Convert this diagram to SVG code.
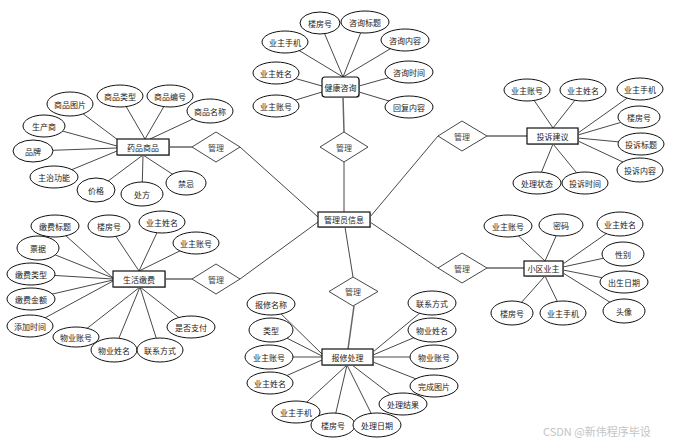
<svg xmlns="http://www.w3.org/2000/svg" width="673" height="444" viewBox="0 0 673 444">
<style>
.bg{fill:#fff}
.ln{stroke:#333;stroke-width:0.9;fill:none}
.lk{stroke:#666;stroke-width:1.5;fill:none}
.at{fill:#fff;stroke:#111;stroke-width:1}
.en{fill:#fff;stroke:#111;stroke-width:1.2}
.sh{fill:#bbb}
.rel{fill:#fff;stroke:#333;stroke-width:0.9}
text{font-family:"Noto Sans CJK SC","Noto Sans",sans-serif;font-size:8px;fill:#222;text-anchor:middle;dominant-baseline:central}
.rt{fill:#444}
.wm{font-size:11px;fill:#c4c4c4;text-anchor:start}
</style>
<rect class="bg" width="673" height="444"/>
<g id="connectors">
<line class="lk" x1="343" y1="97" x2="344" y2="132"/>
<line class="ln" x1="344" y1="162" x2="344" y2="212"/>
<line class="lk" x1="169" y1="147" x2="192" y2="147"/>
<line class="ln" x1="240" y1="147" x2="318" y2="217"/>
<line class="lk" x1="165" y1="279" x2="192" y2="279"/>
<line class="ln" x1="240" y1="279" x2="318" y2="222"/>
<line class="lk" x1="487" y1="136" x2="527" y2="136"/>
<line class="ln" x1="438" y1="136" x2="370" y2="217"/>
<line class="lk" x1="487" y1="268" x2="524" y2="268"/>
<line class="ln" x1="438" y1="268" x2="370" y2="222"/>
<line class="lk" x1="354" y1="306" x2="348" y2="349"/>
<line class="ln" x1="353" y1="277" x2="345" y2="227"/>
<path class="ln" d="M285 42L343 77M320 23L343 77M365 22L343 77M405 40L343 77M276 73L322 86M276 106L322 92M409 72L359 86M409 107L359 92"/>
<path class="ln" d="M70 104L118 140M120 96L145 139M170 96L145 139M210 111L150 139M44 126L117 146M33 151L117 148M54 177L117 151M96 190L143 155M142 194L143 155M186 183L143 155"/>
<path class="ln" d="M55 226L113 278M38 248L113 278M31 274L113 279M31 299L113 280M30 326L113 281M109 226L139 271M162 222L139 271M196 243L139 271M76 337L140 287M114 350L140 287M160 350L140 287M191 327L140 287"/>
<path class="ln" d="M527 90L553 128M583 90L553 128M640 89L578 133M639 117L578 135M641 144L578 138M640 170L578 141M537 183L553 144M585 183L553 144"/>
<path class="ln" d="M508 226L545 261M561 225L545 261M620 224L563 264M623 254L563 267M624 282L563 270M624 311L563 273M512 313L545 276M563 313L545 276"/>
<path class="ln" d="M271 304L322 354M271 330L322 356M269 357L322 357M270 383L322 360M296 412L347 365M333 425L347 365M377 425L347 365M403 404L352 365M434 386L373 362M434 357L373 357M432 330L373 355M432 303L373 352"/>
</g>
<g id="rel-top"><polygon class="rel" points="344,132 368,147 344,162 320,147"/><text class="rt" x="344" y="147">管理</text></g>
<g id="rel-left-top"><polygon class="rel" points="216,132 240,147 216,162 192,147"/><text class="rt" x="216" y="147">管理</text></g>
<g id="rel-left-bottom"><polygon class="rel" points="216,264 240,279 216,294 192,279"/><text class="rt" x="216" y="279">管理</text></g>
<g id="rel-right-top"><polygon class="rel" points="462,121 487,136 462,151 438,136"/><text class="rt" x="462" y="136">管理</text></g>
<g id="rel-right-bottom"><polygon class="rel" points="462,253 487,268 462,283 438,268"/><text class="rt" x="462" y="268">管理</text></g>
<g id="rel-bottom"><polygon class="rel" points="353,277 378,291.5 353,306 329,291.5"/><text class="rt" x="353" y="291.5">管理</text></g>

<g id="admin"><rect class="sh" x="319" y="213" width="52" height="15"/><rect class="en" x="318" y="212" width="52" height="15"/><text x="344" y="219.5">管理员信息</text></g>
<g id="health"><rect class="sh" x="323" y="78" width="37" height="20" rx="3"/><rect class="en" x="322" y="77" width="37" height="20" rx="3"/><text x="340.5" y="87">健康咨询</text></g>
<g id="drug"><rect class="sh" x="118" y="140" width="52" height="16"/><rect class="en" x="117" y="139" width="52" height="16"/><text x="143" y="147">药品商品</text></g>
<g id="complaint"><rect class="sh" x="528" y="129" width="51" height="16"/><rect class="en" x="527" y="128" width="51" height="16"/><text x="552.5" y="136">投诉建议</text></g>
<g id="payment"><rect class="sh" x="114" y="272" width="52" height="16"/><rect class="en" x="113" y="271" width="52" height="16"/><text x="139" y="279">生活缴费</text></g>
<g id="owner"><rect class="sh" x="525" y="262" width="39" height="15"/><rect class="en" x="524" y="261" width="39" height="15"/><text x="543.5" y="268.5">小区业主</text></g>
<g id="repair"><rect class="sh" x="323" y="350" width="51" height="16"/><rect class="en" x="322" y="349" width="51" height="16"/><text x="347.5" y="357">报修处理</text></g>

<g id="health-attrs">
<g id="h1"><ellipse class="at" cx="285" cy="42" rx="23" ry="11"/><text x="285" y="42">业主手机</text></g>
<g id="h2"><ellipse class="at" cx="320" cy="23" rx="20" ry="11"/><text x="320" y="23">楼房号</text></g>
<g id="h3"><ellipse class="at" cx="365" cy="22" rx="24" ry="11"/><text x="365" y="22">咨询标题</text></g>
<g id="h4"><ellipse class="at" cx="405" cy="40" rx="24" ry="11"/><text x="405" y="40">咨询内容</text></g>
<g id="h5"><ellipse class="at" cx="276" cy="73" rx="23" ry="11"/><text x="276" y="73">业主姓名</text></g>
<g id="h6"><ellipse class="at" cx="409" cy="72" rx="24" ry="11"/><text x="409" y="72">咨询时间</text></g>
<g id="h7"><ellipse class="at" cx="276" cy="106" rx="23" ry="11"/><text x="276" y="106">业主账号</text></g>
<g id="h8"><ellipse class="at" cx="409" cy="107" rx="24" ry="11"/><text x="409" y="107">回复内容</text></g>
</g>
<g id="drug-attrs">
<g id="d1"><ellipse class="at" cx="70" cy="104" rx="23" ry="12"/><text x="70" y="104">商品图片</text></g>
<g id="d2"><ellipse class="at" cx="120" cy="96" rx="23" ry="11"/><text x="120" y="96">商品类型</text></g>
<g id="d3"><ellipse class="at" cx="170" cy="96" rx="23" ry="11"/><text x="170" y="96">商品编号</text></g>
<g id="d4"><ellipse class="at" cx="210" cy="111" rx="23" ry="12"/><text x="210" y="111">商品名称</text></g>
<g id="d5"><ellipse class="at" cx="44" cy="126" rx="21" ry="11"/><text x="44" y="126">生产商</text></g>
<g id="d6"><ellipse class="at" cx="33" cy="151" rx="20" ry="11"/><text x="33" y="151">品牌</text></g>
<g id="d7"><ellipse class="at" cx="54" cy="177" rx="24" ry="11"/><text x="54" y="177">主治功能</text></g>
<g id="d8"><ellipse class="at" cx="96" cy="190" rx="19" ry="12"/><text x="96" y="190">价格</text></g>
<g id="d9"><ellipse class="at" cx="142" cy="194" rx="21" ry="12"/><text x="142" y="194">处方</text></g>
<g id="d10"><ellipse class="at" cx="186" cy="183" rx="20" ry="12"/><text x="186" y="183">禁忌</text></g>
</g>
<g id="payment-attrs">
<g id="p1"><ellipse class="at" cx="55" cy="226" rx="24" ry="11"/><text x="55" y="226">缴费标题</text></g>
<g id="p2"><ellipse class="at" cx="109" cy="226" rx="21" ry="11"/><text x="109" y="226">楼房号</text></g>
<g id="p3"><ellipse class="at" cx="162" cy="222" rx="23" ry="11"/><text x="162" y="222">业主姓名</text></g>
<g id="p4"><ellipse class="at" cx="196" cy="243" rx="23" ry="11"/><text x="196" y="243">业主账号</text></g>
<g id="p5"><ellipse class="at" cx="38" cy="248" rx="21" ry="12"/><text x="38" y="248">票据</text></g>
<g id="p6"><ellipse class="at" cx="31" cy="274" rx="24" ry="11"/><text x="31" y="274">缴费类型</text></g>
<g id="p7"><ellipse class="at" cx="31" cy="299" rx="24" ry="11"/><text x="31" y="299">缴费金额</text></g>
<g id="p8"><ellipse class="at" cx="30" cy="326" rx="23" ry="11"/><text x="30" y="326">添加时间</text></g>
<g id="p9"><ellipse class="at" cx="76" cy="337" rx="23" ry="10"/><text x="76" y="337">物业账号</text></g>
<g id="p10"><ellipse class="at" cx="114" cy="350" rx="23" ry="12"/><text x="114" y="350">物业姓名</text></g>
<g id="p11"><ellipse class="at" cx="160" cy="350" rx="23" ry="12"/><text x="160" y="350">联系方式</text></g>
<g id="p12"><ellipse class="at" cx="191" cy="327" rx="24" ry="11"/><text x="191" y="327">是否支付</text></g>
</g>
<g id="complaint-attrs">
<g id="c1"><ellipse class="at" cx="527" cy="90" rx="23" ry="11"/><text x="527" y="90">业主账号</text></g>
<g id="c2"><ellipse class="at" cx="583" cy="90" rx="23" ry="11"/><text x="583" y="90">业主姓名</text></g>
<g id="c3"><ellipse class="at" cx="640" cy="89" rx="23" ry="11"/><text x="640" y="89">业主手机</text></g>
<g id="c4"><ellipse class="at" cx="639" cy="117" rx="21" ry="11"/><text x="639" y="117">楼房号</text></g>
<g id="c5"><ellipse class="at" cx="641" cy="144" rx="23" ry="11"/><text x="641" y="144">投诉标题</text></g>
<g id="c6"><ellipse class="at" cx="640" cy="170" rx="23" ry="12"/><text x="640" y="170">投诉内容</text></g>
<g id="c7"><ellipse class="at" cx="537" cy="183" rx="24" ry="11"/><text x="537" y="183">处理状态</text></g>
<g id="c8"><ellipse class="at" cx="585" cy="183" rx="23" ry="11"/><text x="585" y="183">投诉时间</text></g>
</g>
<g id="owner-attrs">
<g id="o1"><ellipse class="at" cx="508" cy="226" rx="24" ry="11"/><text x="508" y="226">业主账号</text></g>
<g id="o2"><ellipse class="at" cx="561" cy="225" rx="22" ry="11"/><text x="561" y="225">密码</text></g>
<g id="o3"><ellipse class="at" cx="620" cy="224" rx="23" ry="12"/><text x="620" y="224">业主姓名</text></g>
<g id="o4"><ellipse class="at" cx="623" cy="254" rx="21" ry="12"/><text x="623" y="254">性别</text></g>
<g id="o5"><ellipse class="at" cx="624" cy="282" rx="24" ry="11"/><text x="624" y="282">出生日期</text></g>
<g id="o6"><ellipse class="at" cx="624" cy="311" rx="21" ry="12"/><text x="624" y="311">头像</text></g>
<g id="o7"><ellipse class="at" cx="512" cy="313" rx="21" ry="12"/><text x="512" y="313">楼房号</text></g>
<g id="o8"><ellipse class="at" cx="563" cy="313" rx="23" ry="12"/><text x="563" y="313">业主手机</text></g>
</g>
<g id="repair-attrs">
<g id="r1"><ellipse class="at" cx="271" cy="304" rx="24" ry="11"/><text x="271" y="304">报修名称</text></g>
<g id="r2"><ellipse class="at" cx="271" cy="330" rx="22" ry="12"/><text x="271" y="330">类型</text></g>
<g id="r3"><ellipse class="at" cx="269" cy="357" rx="24" ry="12"/><text x="269" y="357">业主账号</text></g>
<g id="r4"><ellipse class="at" cx="270" cy="383" rx="23" ry="11"/><text x="270" y="383">业主姓名</text></g>
<g id="r5"><ellipse class="at" cx="296" cy="412" rx="24" ry="11"/><text x="296" y="412">业主手机</text></g>
<g id="r6"><ellipse class="at" cx="333" cy="425" rx="22" ry="12"/><text x="333" y="425">楼房号</text></g>
<g id="r7"><ellipse class="at" cx="377" cy="425" rx="24" ry="12"/><text x="377" y="425">处理日期</text></g>
<g id="r8"><ellipse class="at" cx="403" cy="404" rx="24" ry="11"/><text x="403" y="404">处理结果</text></g>
<g id="r9"><ellipse class="at" cx="434" cy="386" rx="24" ry="11"/><text x="434" y="386">完成图片</text></g>
<g id="r10"><ellipse class="at" cx="434" cy="357" rx="24" ry="12"/><text x="434" y="357">物业账号</text></g>
<g id="r11"><ellipse class="at" cx="432" cy="330" rx="24" ry="12"/><text x="432" y="330">物业姓名</text></g>
<g id="r12"><ellipse class="at" cx="432" cy="303" rx="24" ry="12"/><text x="432" y="303">联系方式</text></g>
</g>
<text class="wm" x="543" y="431">CSDN @新伟程序毕设</text>
</svg>
